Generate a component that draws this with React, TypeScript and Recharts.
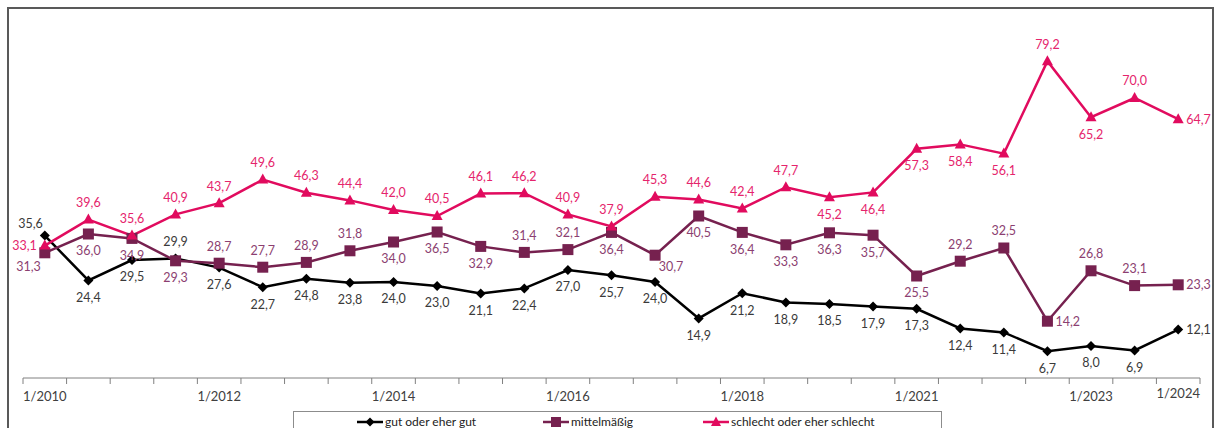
import React from 'react';
import { LineChart, Line, XAxis, YAxis, LabelList } from 'recharts';

// tick labels per survey wave ("" = no label under that wave)
const waveLabels = [
  '1/2010', '', '', '', '1/2012', '', '', '', '1/2014', '', '', '', '1/2016', '', '',
  '', '1/2018', '', '', '', '1/2021', '', '', '', '1/2023', '', '1/2024'
];

const gut = [
  35.6, 24.4, 29.5, 29.9, 27.6, 22.7, 24.8, 23.8, 24.0, 23.0, 21.1, 22.4, 27.0, 25.7,
  24.0, 14.9, 21.2, 18.9, 18.5, 17.9, 17.3, 12.4, 11.4, 6.7, 8.0, 6.9, 12.1
];
const mittel = [
  31.3, 36.0, 34.9, 29.3, 28.7, 27.7, 28.9, 31.8, 34.0, 36.5, 32.9, 31.4, 32.1, 36.4,
  30.7, 40.5, 36.4, 33.3, 36.3, 35.7, 25.5, 29.2, 32.5, 14.2, 26.8, 23.1, 23.3
];
const schlecht = [
  33.1, 39.6, 35.6, 40.9, 43.7, 49.6, 46.3, 44.4, 42.0, 40.5, 46.1, 46.2, 40.9, 37.9,
  45.3, 44.6, 42.4, 47.7, 45.2, 46.4, 57.3, 58.4, 56.1, 79.2, 65.2, 70.0, 64.7
];

// where each data label sits relative to its point
const gutPlace = 'tl b b t b b b b b b b b b b b b b b b b b b b b b b r'.split(' ');
const mittelPlace = 'bl b b b t t t t b b b t t b br b b b b b b t t r t t r'.split(' ');
const schlechtPlace = 'l t t t t t t t t t t t t t t t t t b b b b b t b t r'.split(' ');

const BLACK = '#000000';
const PURPLE = '#76214F';
const PINK = '#E10B5E';
const FONT = 'Lato, "Open Sans", sans-serif';

const data = waveLabels.map((label, i) => ({
  idx: i,
  label,
  gut: gut[i],
  mittel: mittel[i],
  schlecht: schlecht[i],
}));

const boundaries = Array.from({ length: waveLabels.length + 1 }, (_, i) => i - 0.5);
const labelIdx = waveLabels.map((l, i) => (l ? i : -1)).filter((i) => i >= 0);
const axisTicks = [...boundaries, ...labelIdx].sort((a, b) => a - b);

const fmt = (v: number) => v.toFixed(1).replace('.', ',');

const AxisTick = (props: any) => {
  const { x, y, payload } = props;
  const v = payload.value as number;
  if (!Number.isInteger(v)) {
    return <line x1={x} x2={x} y1={y} y2={y + 6} stroke="#808080" strokeWidth={1} />;
  }
  const last = v === waveLabels.length - 1;
  return (
    <text x={x} y={y + (last ? 20 : 23)} textAnchor="middle" fontSize={13} fill="#404040" fontFamily={FONT}>
      {waveLabels[v]}
    </text>
  );
};

const makeLabel = (places: string[], color: string) => (props: any) => {
  const { x, y, value, index } = props;
  const p = places[index] || 't';
  let tx = x;
  let ty = y;
  let anchor: 'middle' | 'start' | 'end' = 'middle';
  if (p === 't') ty = y - 17;
  if (p === 'b') ty = y + 17;
  if (p === 'l') { tx = x - 8; anchor = 'end'; }
  if (p === 'r') { tx = x + 8; anchor = 'start'; }
  if (p === 'tl') { tx = x - 2; ty = y - 12; anchor = 'end'; }
  if (p === 'bl') { tx = x - 4; ty = y + 14; anchor = 'end'; }
  if (p === 'br') { tx = x + 16; ty = y + 11; }
  return (
    <text
      key={`lbl-${index}`}
      x={tx}
      y={ty}
      dy="0.35em"
      textAnchor={anchor}
      fontSize={12.5}
      fill={color}
      fontFamily={FONT}
    >
      {fmt(value)}
    </text>
  );
};

const Diamond = (props: any) => {
  const { cx, cy, index } = props;
  if (cx == null || cy == null) return <g key={`d-${index}`} />;
  const r = 5;
  return <path key={`d-${index}`} d={`M${cx},${cy - r}L${cx + r},${cy}L${cx},${cy + r}L${cx - r},${cy}Z`} fill={BLACK} />;
};

const Square = (props: any) => {
  const { cx, cy, index } = props;
  if (cx == null || cy == null) return <g key={`s-${index}`} />;
  const r = 5.5;
  return <rect key={`s-${index}`} x={cx - r} y={cy - r} width={r * 2} height={r * 2} fill={PURPLE} />;
};

const Triangle = (props: any) => {
  const { cx, cy, index } = props;
  if (cx == null || cy == null) return <g key={`t-${index}`} />;
  return <path key={`t-${index}`} d={`M${cx},${cy - 6}L${cx + 5.5},${cy + 4}L${cx - 5.5},${cy + 4}Z`} fill={PINK} />;
};

const LegendItem = ({ color, marker, text }: { color: string; marker: React.ReactNode; text: string }) => (
  <div style={{ display: 'flex', alignItems: 'center' }}>
    <svg width={26} height={12}>
      <line x1={0} x2={26} y1={6} y2={6} stroke={color} strokeWidth={2.5} />
      {marker}
    </svg>
    <span style={{ marginLeft: 2, fontSize: 12, color: '#222', fontFamily: FONT }}>{text}</span>
  </div>
);

export default function App() {
  return (
    <div style={{ position: 'absolute', left: 0, top: 0, width: 1217, height: 428, overflow: 'hidden', background: '#fff' }}>
      <div
        style={{
          position: 'absolute',
          left: 7,
          top: 7,
          width: 1207,
          height: 440,
          border: '2px solid #595959',
          boxSizing: 'border-box',
        }}
      />
      <div style={{ position: 'absolute', left: 0, top: 0 }}>
        <LineChart width={1217} height={428} data={data} margin={{ top: 18, right: 17, bottom: 20, left: 23 }}>
          <XAxis
            dataKey="idx"
            type="number"
            domain={[-0.5, waveLabels.length - 0.5]}
            ticks={axisTicks}
            interval={0}
            tick={<AxisTick />}
            tickLine={false}
            tickSize={0}
            tickMargin={0}
            height={30}
            axisLine={{ stroke: '#808080', strokeWidth: 1 }}
          />
          <YAxis hide domain={[0, 90]} />
          <Line
            dataKey="gut"
            stroke={BLACK}
            strokeWidth={2.5}
            dot={Diamond}
            activeDot={false}
            isAnimationActive={false}
          >
            <LabelList dataKey="gut" content={makeLabel(gutPlace, '#3a3a3a')} />
          </Line>
          <Line
            dataKey="mittel"
            stroke={PURPLE}
            strokeWidth={2.5}
            dot={Square}
            activeDot={false}
            isAnimationActive={false}
          >
            <LabelList dataKey="mittel" content={makeLabel(mittelPlace, '#8C3F71')} />
          </Line>
          <Line
            dataKey="schlecht"
            stroke={PINK}
            strokeWidth={2.5}
            dot={Triangle}
            activeDot={false}
            isAnimationActive={false}
          >
            <LabelList dataKey="schlecht" content={makeLabel(schlechtPlace, '#E5246C')} />
          </Line>
        </LineChart>
      </div>
      <div
        style={{
          position: 'absolute',
          left: 293,
          top: 411,
          width: 649,
          height: 30,
          border: '1px solid #8c8c8c',
          boxSizing: 'border-box',
        }}
      >
        <div style={{ position: 'absolute', left: 63, top: 2 }}>
          <LegendItem
            color={BLACK}
            text="gut oder eher gut"
            marker={<path d="M13,1.5L17.5,6L13,10.5L8.5,6Z" fill={BLACK} />}
          />
        </div>
        <div style={{ position: 'absolute', left: 249, top: 2 }}>
          <LegendItem
            color={PURPLE}
            text="mittelmäßig"
            marker={<rect x={8} y={1} width={10} height={10} fill={PURPLE} />}
          />
        </div>
        <div style={{ position: 'absolute', left: 409, top: 2 }}>
          <LegendItem
            color={PINK}
            text="schlecht oder eher schlecht"
            marker={<path d="M13,0.5L18,10L8,10Z" fill={PINK} />}
          />
        </div>
      </div>
    </div>
  );
}
